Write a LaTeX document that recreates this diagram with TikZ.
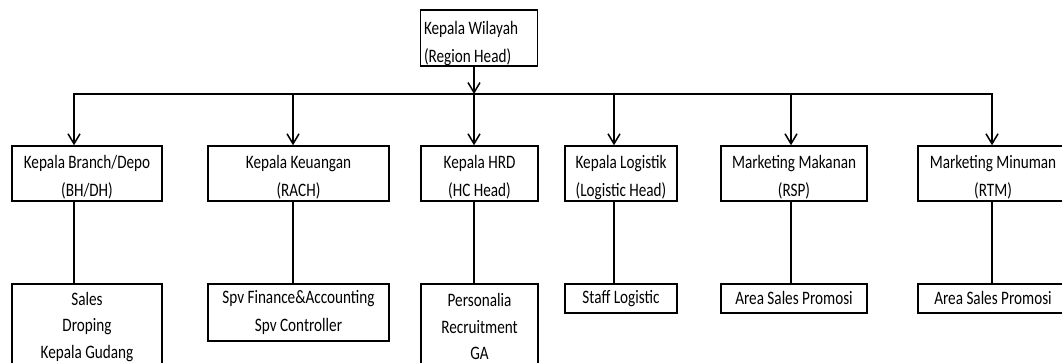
\documentclass[tikz,border=0pt]{standalone}
\usepackage{fontspec}
\setmainfont{Carlito}[FakeStretch=0.8]
\usetikzlibrary{arrows.meta}
\newcommand{\lift}[1]{\rule{0pt}{#1}}

\tikzset{
  box/.style={draw, line width=1.5pt, inner sep=0pt, align=center,
    font=\fontsize{19}{28}\selectfont},
  link/.style={line width=1.5pt, line cap=rect},
  down/.style={line width=1.5pt, -{Straight Barb[length=10pt,width=12pt]}}
}

\begin{document}
\begin{tikzpicture}[x=1pt,y=-1pt]
    \useasboundingbox (0,0) rectangle (1062,363);
    % kepala wilayah
    \node[box, align=flush left, text width=110pt, inner xsep=3.5pt, minimum height=56pt] (R) at (479,38) {\lift{25pt}Kepala Wilayah\\(Region Head)};
    % level 2
    \node[box, minimum width=150pt, minimum height=55pt] (b1) at (87,173.5) {\lift{21pt}Kepala Branch/Depo\\(BH/DH)};
    \node[box, minimum width=181pt, minimum height=55pt] (b2) at (298.5,173.5) {\lift{21pt}Kepala Keuangan\\(RACH)};
    \node[box, minimum width=117pt, minimum height=55pt] (b3) at (479.5,173.5) {\lift{21pt}Kepala HRD\\(HC Head)};
    \node[box, minimum width=112pt, minimum height=55pt] (b4) at (621,173.5) {\lift{21pt}Kepala Logistik\\(Logistic Head)};
    \node[box, minimum width=146pt, minimum height=55pt] (b5) at (794,173.5) {\lift{21pt}Marketing Makanan\\(RSP)};
    \node[box, minimum width=150pt, minimum height=55pt] (b6) at (993,173.5) {\lift{21pt}Marketing Minuman\\(RTM)};
    % level 3
    \node[box, anchor=north, minimum width=150pt, minimum height=86pt, font=\fontsize{19}{26.5}\selectfont] (c1) at (87,283) {Sales\\Droping\\Kepala Gudang};
    \node[box, anchor=north, minimum width=181pt, minimum height=57pt] (c2) at (298.5,283) {Spv Finance\&Accounting\\Spv Controller};
    \node[box, anchor=north, minimum width=117pt, minimum height=86pt, font=\fontsize{19}{26.5}\selectfont] (c3) at (479.5,283) {Personalia\\Recruitment\\GA};
    \node[box, anchor=north, minimum width=112pt, minimum height=29pt] (c4) at (621,283) {Staff Logistic};
    \node[box, anchor=north, minimum width=146pt, minimum height=29pt] (c5) at (794,283) {Area Sales Promosi};
    \node[box, anchor=north, minimum width=150pt, minimum height=29pt] (c6) at (993,283) {Area Sales Promosi};
    % bus
    \coordinate (t1) at (74,94);
    \coordinate (t2) at (293,94);
    \coordinate (t3) at (474,94);
    \coordinate (t4) at (614,94);
    \coordinate (t5) at (791,94);
    \coordinate (t6) at (992,94);
    \draw[down] (R.south -| t3) -- (t3);
    \draw[link] (t1) -- (t6);
    \foreach \i in {1,...,6} {
      \draw[down] (t\i) -- (t\i |- b\i.north);
      \draw[link] (t\i |- b\i.south) -- (t\i |- c\i.north);
    }
\end{tikzpicture}
\end{document}
